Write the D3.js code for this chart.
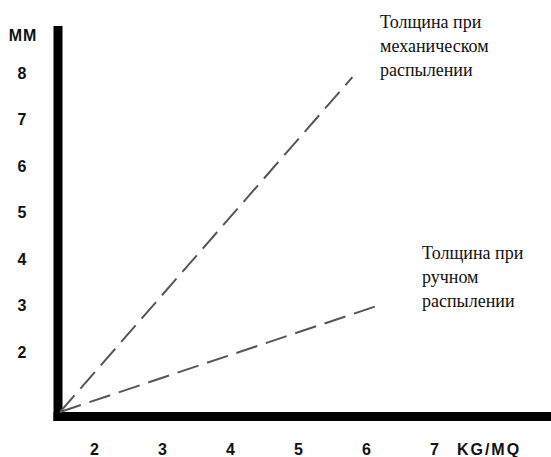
<!DOCTYPE html>
<html>
<head>
<meta charset="utf-8">
<script src="https://cdn.jsdelivr.net/npm/d3@7"></script>
<style>
    html, body { margin: 0; padding: 0; background: #fff; }
    svg { display: block; }
    .tick-label { font-family: 'Liberation Sans', Arial, sans-serif; font-weight: bold; font-size: 16px; fill: #111; }
    .note { font-family: 'Liberation Serif', 'Times New Roman', serif; font-size: 18px; fill: #111; }
</style>
</head>
<body>
<div id="chart"></div>
<script>
// tick labels
const xTicks = [2, 3, 4, 5, 6, 7];
const yTicks = [2, 3, 4, 5, 6, 7, 8];
const xUnit = 'KG/MQ';
const yUnit = 'MM';

// thickness vs amount, two spray methods (start at the axis corner)
const mechanicalX = [1.5, 5.8];
const mechanicalY = [0.7, 7.9];
const manualX = [1.5, 6.2];
const manualY = [0.7, 3.0];

const mechanicalNote = ['Толщина при', 'механическом', 'распылении'];
const manualNote = ['Толщина при', 'ручном', 'распылении'];

function drawChart(query) {
    const width = 551;
    const height = 457;

    const svg = d3.select(query).append('svg').attr('width', width).attr('height', height);

    // origin of the plot sits at the inner corner of the thick axes
    const xScale = d3.scaleLinear().domain([1.5, 8.5]).range([60, 536]);
    const yScale = d3.scaleLinear().domain([0.7, 8.7]).range([412, 40]);

    // Thick axis bars
    svg.append('line')
        .attr('x1', 58).attr('x2', 58)
        .attr('y1', 26).attr('y2', 421)
        .attr('stroke', '#000').attr('stroke-width', 9);
    svg.append('line')
        .attr('x1', 53.5).attr('x2', width)
        .attr('y1', 416.5).attr('y2', 416.5)
        .attr('stroke', '#000').attr('stroke-width', 9);

    // Tick labels via axes, no domain or tick marks
    const xAxis = svg.append('g')
        .attr('transform', 'translate(0, 449)')
        .call(d3.axisBottom(xScale).tickValues(xTicks).tickFormat(d3.format('d')).tickSize(0).tickPadding(0));
    xAxis.select('.domain').remove();
    xAxis.selectAll('text')
        .attr('class', 'tick-label')
        .attr('dy', null)
        .attr('y', 0)
        .attr('dominant-baseline', 'central');

    const yAxis = svg.append('g')
        .attr('transform', 'translate(22, 0)')
        .call(d3.axisLeft(yScale).tickValues(yTicks).tickFormat(d3.format('d')).tickSize(0).tickPadding(0));
    yAxis.select('.domain').remove();
    yAxis.selectAll('text')
        .attr('class', 'tick-label')
        .attr('x', 0)
        .attr('dy', null)
        .attr('text-anchor', 'middle')
        .attr('dominant-baseline', 'central');
    yAxis.attr('font-family', null).attr('font-size', null);
    xAxis.attr('font-family', null).attr('font-size', null);

    svg.append('text')
        .attr('class', 'tick-label')
        .attr('x', 489).attr('y', 449)
        .attr('text-anchor', 'middle')
        .attr('dominant-baseline', 'central')
        .attr('letter-spacing', 2)
        .text(xUnit);

    svg.append('text')
        .attr('class', 'tick-label')
        .attr('x', 23).attr('y', 35)
        .attr('text-anchor', 'middle')
        .attr('dominant-baseline', 'central')
        .attr('letter-spacing', 1)
        .text(yUnit);

    // Dashed lines
    const line = d3.line().x((d) => xScale(d[0])).y((d) => yScale(d[1]));
    const series = [
        d3.zip(mechanicalX, mechanicalY),
        d3.zip(manualX, manualY)
    ];
    svg.selectAll('.series')
        .data(series)
        .enter()
        .append('path')
        .attr('class', 'series')
        .attr('d', line)
        .attr('fill', 'none')
        .attr('stroke', '#555')
        .attr('stroke-width', 2)
        .attr('stroke-dasharray', '22,9');

    // Notes next to the line ends
    function note(lines, x, y) {
        const t = svg.append('text').attr('class', 'note');
        lines.forEach((s, i) => {
            t.append('tspan')
                .attr('x', x)
                .attr('y', y + i * 24)
                .attr('dominant-baseline', 'central')
                .text(s);
        });
    }
    note(mechanicalNote, 380, 22);
    note(manualNote, 422, 253);
}

window.addEventListener('DOMContentLoaded', () => {
    drawChart('#chart');
});
</script>
</body>
</html>
